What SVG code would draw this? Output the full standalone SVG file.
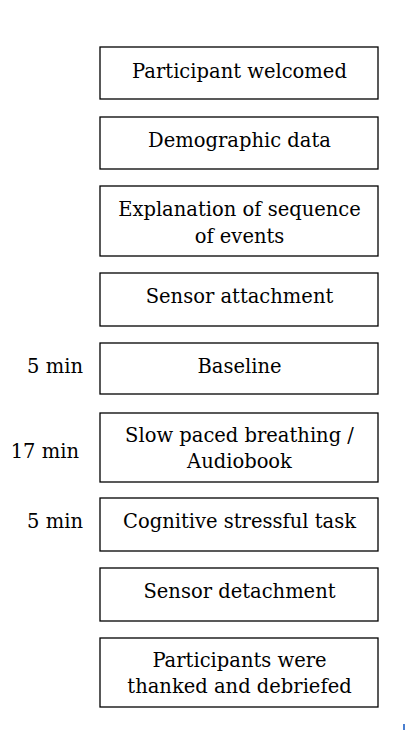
<svg xmlns="http://www.w3.org/2000/svg" width="405" height="740" viewBox="0 0 405 740">
<style>
.box{fill:#fff;stroke:#000;stroke-width:1.3}
.t{font-family:"DejaVu Serif","Liberation Serif",serif;font-size:19.5px;fill:#000;text-anchor:middle}
.l{font-family:"DejaVu Serif","Liberation Serif",serif;font-size:19.5px;fill:#000;text-anchor:end}
</style>
<rect width="405" height="740" fill="#fff"/>
<g id="connectors"></g>
<g id="n1"><rect class="box" x="100" y="47" width="278" height="52"/><text class="t" x="239.5" y="77.5">Participant welcomed</text></g>
<g id="n2"><rect class="box" x="100" y="117" width="278" height="52"/><text class="t" x="239.5" y="146.5">Demographic data</text></g>
<g id="n3"><rect class="box" x="100" y="186" width="278" height="70"/><text class="t" x="239.5" y="215.5">Explanation of sequence</text><text class="t" x="239.5" y="242.5">of events</text></g>
<g id="n4"><rect class="box" x="100" y="273" width="278" height="53"/><text class="t" x="239.5" y="302.5">Sensor attachment</text></g>
<g id="n5"><rect class="box" x="100" y="343" width="278" height="51"/><text class="t" x="239.5" y="372.5">Baseline</text><text class="l" x="83" y="372.5">5 min</text></g>
<g id="n6"><rect class="box" x="100" y="413" width="278" height="69"/><text class="t" x="239.5" y="441.5">Slow paced breathing /</text><text class="t" x="239.5" y="467.5">Audiobook</text><text class="l" x="79" y="458">17 min</text></g>
<g id="n7"><rect class="box" x="100" y="498" width="278" height="53"/><text class="t" x="239.5" y="527.5">Cognitive stressful task</text><text class="l" x="83" y="527.5">5 min</text></g>
<g id="n8"><rect class="box" x="100" y="568" width="278" height="53"/><text class="t" x="239.5" y="597.5">Sensor detachment</text></g>
<g id="n9"><rect class="box" x="100" y="638" width="278" height="69"/><text class="t" x="239.5" y="666.5">Participants were</text><text class="t" x="239.5" y="693">thanked and debriefed</text></g>
<rect x="403" y="724" width="2" height="6" fill="#4a7fd0"/>
</svg>
